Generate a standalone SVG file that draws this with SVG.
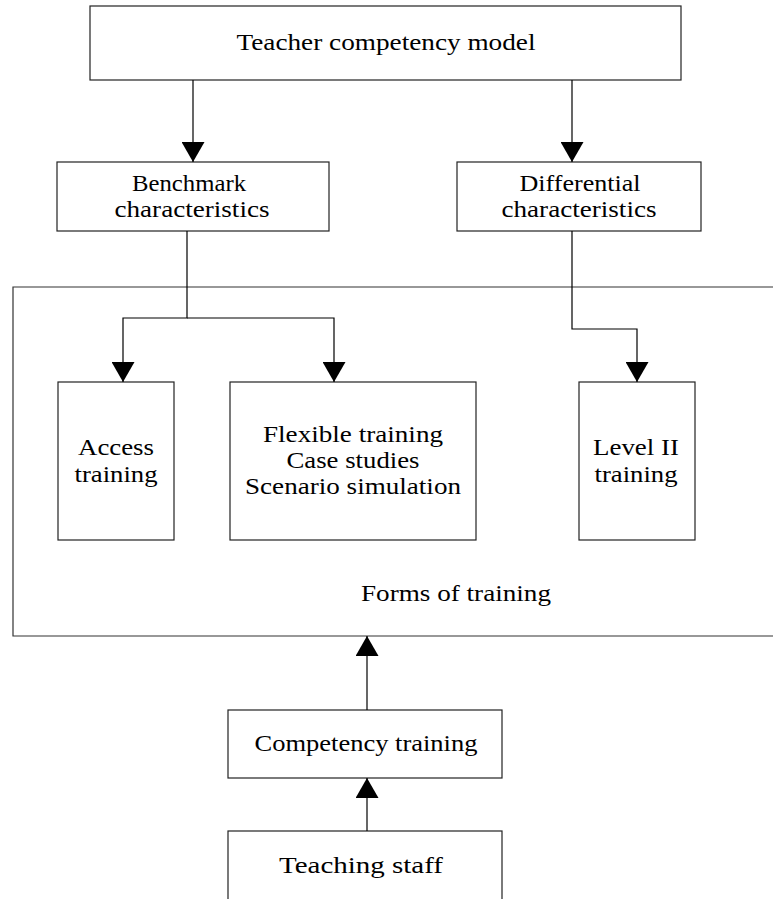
<svg xmlns="http://www.w3.org/2000/svg" width="773" height="899" viewBox="0 0 773 899" font-family="'Liberation Serif', 'Times New Roman', Times, serif">
<style>
.box{fill:#fff;stroke:#222;stroke-width:1.2}
.frame{fill:none;stroke:#333;stroke-width:1.2}
.con{fill:none;stroke:#000;stroke-width:1.2}
.t{font-family:'Liberation Serif','Times New Roman',Times,serif;font-size:23px;fill:#000;text-anchor:middle}
</style>
<defs>
<marker id="ah" markerUnits="userSpaceOnUse" viewBox="0 0 20 23" refX="20" refY="11.5" markerWidth="20" markerHeight="23" orient="auto">
<path d="M0,0 L20,11.5 L0,23 Z" fill="#000"/>
</marker>
</defs>
<rect width="773" height="899" fill="#fff"/>
<g id="forms">
<path class="frame" d="M773,287 H13 V636 H773"/>
<text class="t" x="456" y="601" textLength="190" lengthAdjust="spacingAndGlyphs">Forms of training</text>
</g>
<g id="top">
<rect class="box" x="90" y="6" width="591" height="74"/>
<text class="t" x="386" y="50" textLength="299" lengthAdjust="spacingAndGlyphs">Teacher competency model</text>
</g>
<g id="benchmark">
<rect class="box" x="57" y="162" width="272" height="69"/>
<text class="t" x="189" y="191" textLength="114" lengthAdjust="spacingAndGlyphs">Benchmark</text>
<text class="t" x="192" y="217" textLength="155" lengthAdjust="spacingAndGlyphs">characteristics</text>
</g>
<g id="differential">
<rect class="box" x="457" y="162" width="244" height="69"/>
<text class="t" x="580" y="191" textLength="121" lengthAdjust="spacingAndGlyphs">Differential</text>
<text class="t" x="579" y="217" textLength="155" lengthAdjust="spacingAndGlyphs">characteristics</text>
</g>
<g id="access">
<rect class="box" x="58" y="382" width="116" height="158"/>
<text class="t" x="116" y="455" textLength="76" lengthAdjust="spacingAndGlyphs">Access</text>
<text class="t" x="116" y="482" textLength="83" lengthAdjust="spacingAndGlyphs">training</text>
</g>
<g id="flexible">
<rect class="box" x="230" y="382" width="246" height="158"/>
<text class="t" x="353" y="442" textLength="180" lengthAdjust="spacingAndGlyphs">Flexible training</text>
<text class="t" x="353" y="468" textLength="133" lengthAdjust="spacingAndGlyphs">Case studies</text>
<text class="t" x="353" y="494" textLength="216" lengthAdjust="spacingAndGlyphs">Scenario simulation</text>
</g>
<g id="level2">
<rect class="box" x="579" y="382" width="116" height="158"/>
<text class="t" x="636" y="455" textLength="86" lengthAdjust="spacingAndGlyphs">Level II</text>
<text class="t" x="636" y="482" textLength="83" lengthAdjust="spacingAndGlyphs">training</text>
</g>
<g id="competency">
<rect class="box" x="228" y="710" width="274" height="68"/>
<text class="t" x="366" y="751" textLength="223" lengthAdjust="spacingAndGlyphs">Competency training</text>
</g>
<g id="teaching">
<rect class="box" x="228" y="831" width="274" height="90"/>
<text class="t" x="361" y="873" textLength="164" lengthAdjust="spacingAndGlyphs">Teaching staff</text>
</g>
<g id="connectors">
<path class="con" d="M193,80 V162" marker-end="url(#ah)"/>
<path class="con" d="M572,80 V162" marker-end="url(#ah)"/>
<path class="con" d="M187,231 V318 H123 V382" marker-end="url(#ah)"/>
<path class="con" d="M187,318 H334 V382" marker-end="url(#ah)"/>
<path class="con" d="M572,231 V329 H637 V382" marker-end="url(#ah)"/>
<path class="con" d="M367,710 V636" marker-end="url(#ah)"/>
<path class="con" d="M367,831 V778" marker-end="url(#ah)"/>
</g>
</svg>
